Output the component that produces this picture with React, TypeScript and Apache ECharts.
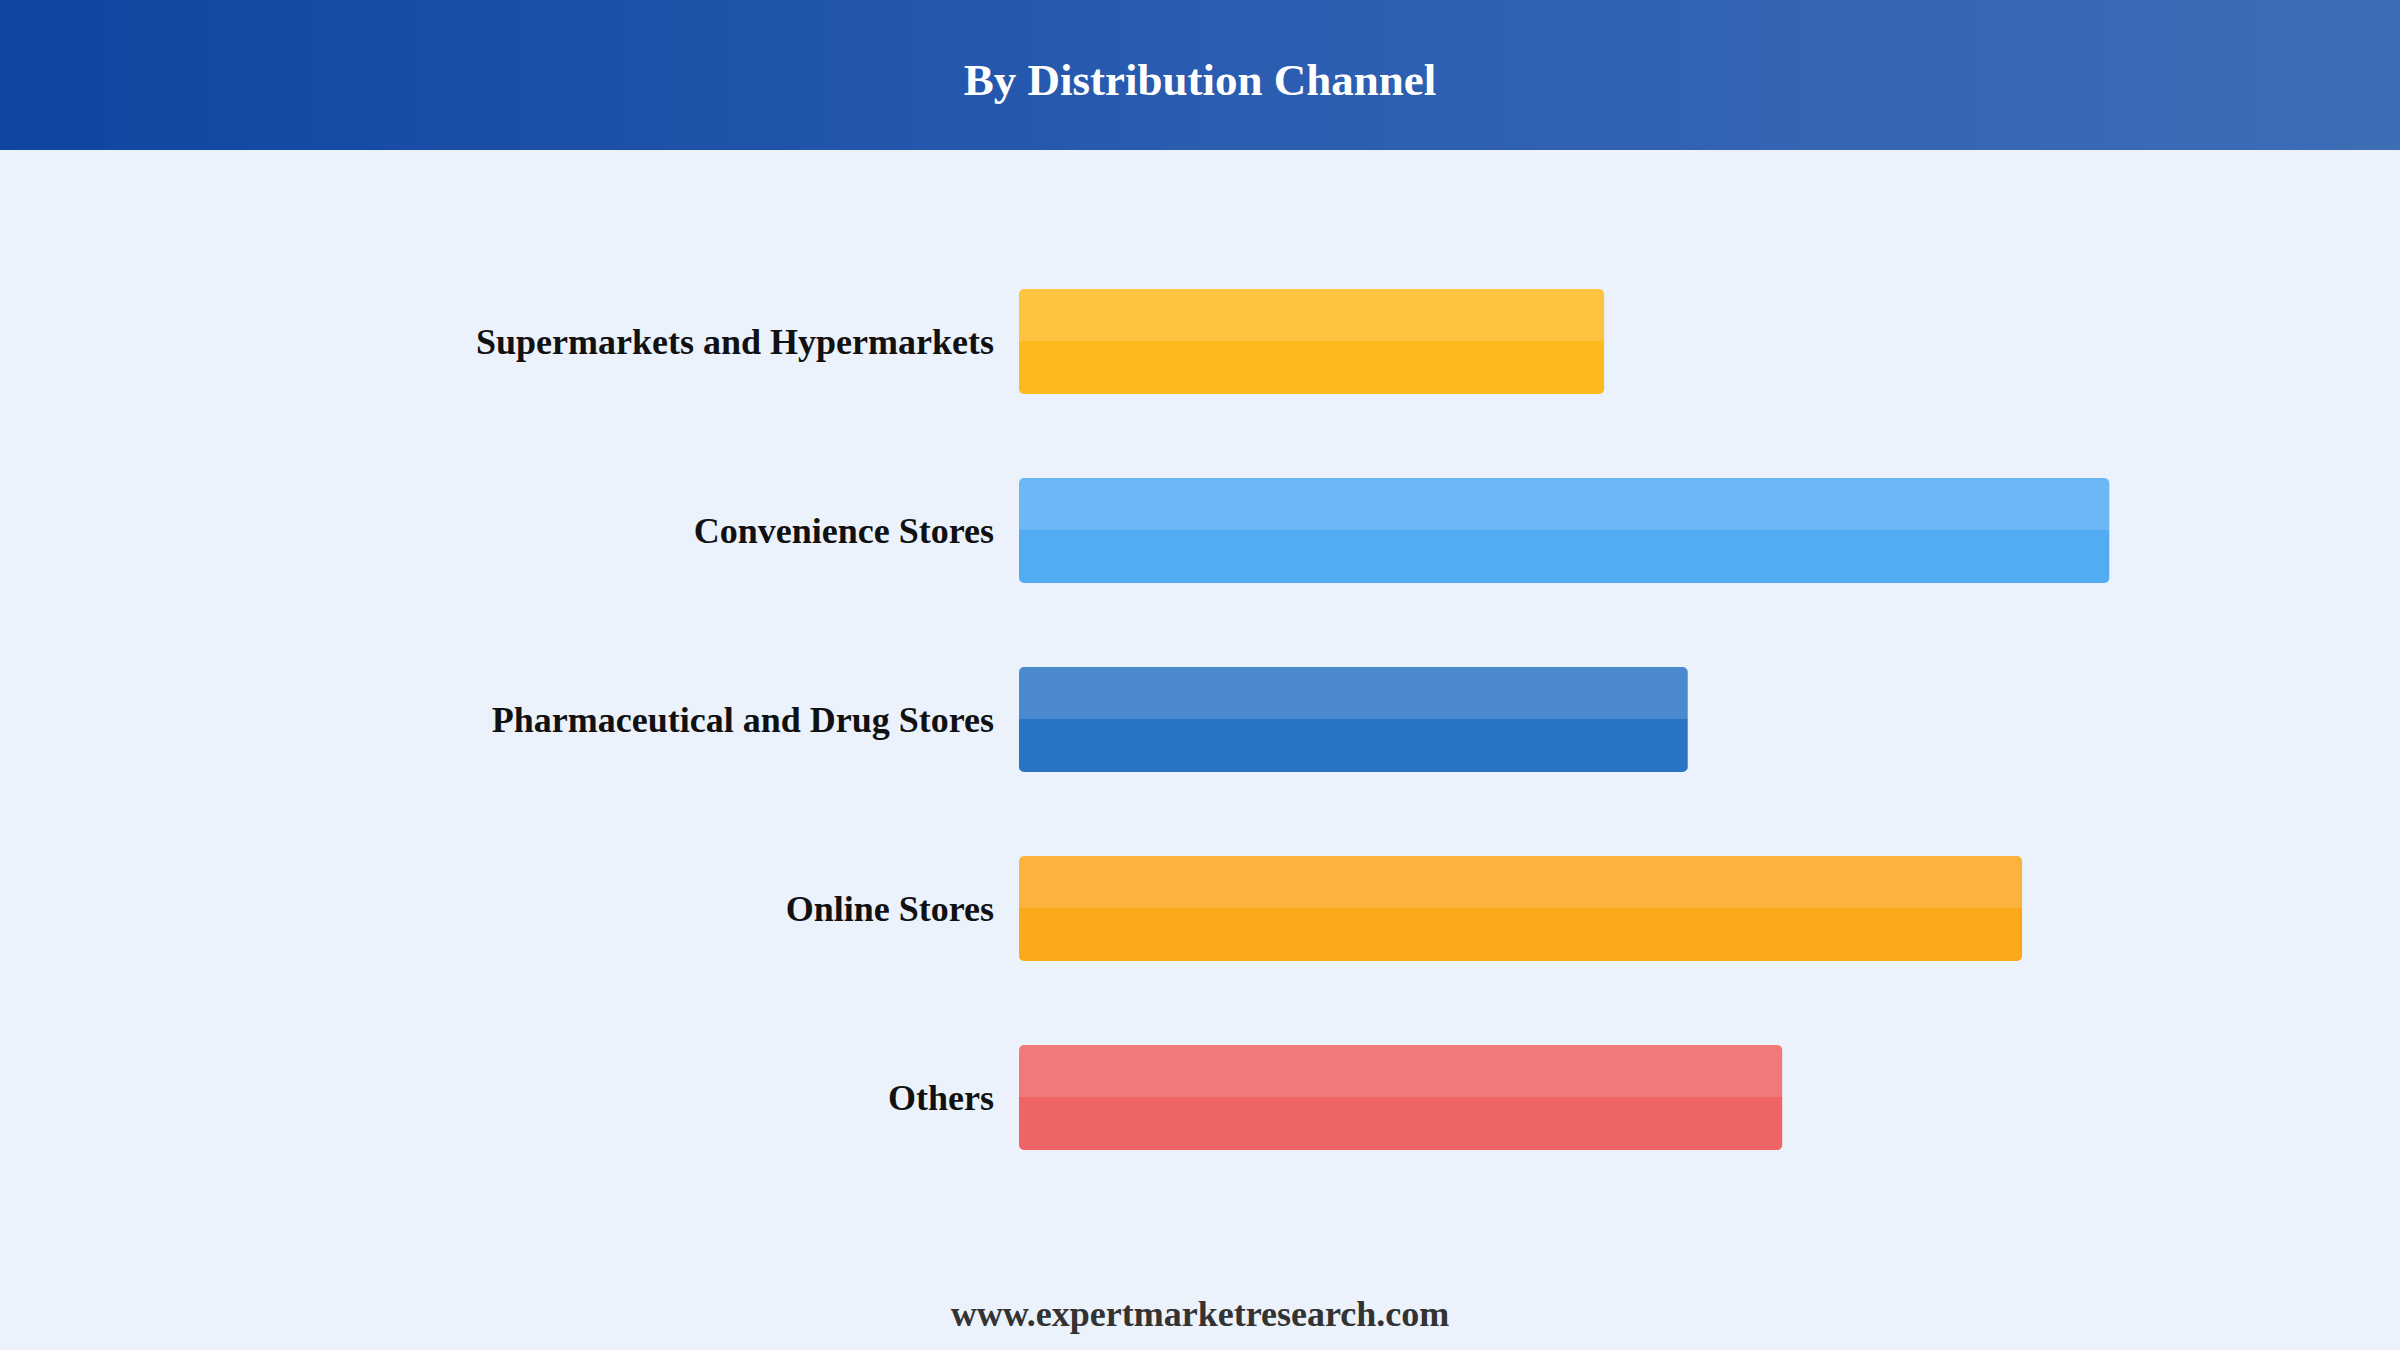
import { useEffect, useRef } from 'react';
import * as echarts from 'echarts';

const categories = [
  'Supermarkets and Hypermarkets',
  'Convenience Stores',
  'Pharmaceutical and Drug Stores',
  'Online Stores',
  'Others',
];
const values = [32.2, 60, 36.8, 55.2, 42];
const topColors = ['#FEC33F', '#6CB7F6', '#4B89CE', '#FBB33E', '#F07A7B'];
const baseColors = ['#FEB91D', '#52ACF3', '#2A74C5', '#FBA91A', '#EF6464'];

const titleText = 'By Distribution Channel';
const footerText = 'www.expertmarketresearch.com';

const serif = '"Liberation Serif", "Times New Roman", serif';

const App = () => {
  const containerRef = useRef<HTMLDivElement>(null);

  useEffect(() => {
    if (!containerRef.current) return;
    const chart = echarts.init(containerRef.current, null, { renderer: 'svg' });

    const option: echarts.EChartsOption = {
      animation: false,
      backgroundColor: '#EBF2FC',
      title: {
        text: titleText,
        left: 'center',
        top: 57,
        padding: 0,
        textStyle: { color: '#ffffff', fontSize: 45, fontWeight: 'bold', fontFamily: serif },
      },
      graphic: [
        {
          type: 'rect',
          z: -1,
          shape: { x: 0, y: 0, width: 2400, height: 150 },
          style: {
            fill: new echarts.graphic.LinearGradient(0, 0, 1, 0, [
              { offset: 0, color: '#0D45A0' },
              { offset: 0.5, color: '#2A5CB0' },
              { offset: 1, color: '#3E6DB6' },
            ]),
          },
        },
        {
          type: 'text',
          x: 1200,
          y: 1314,
          style: {
            text: footerText,
            fill: '#333333',
            fontSize: 36,
            fontWeight: 'bold',
            fontFamily: serif,
            textAlign: 'center',
            textVerticalAlign: 'middle',
          },
        },
      ],
      grid: { left: 1019, top: 247, width: 1272, height: 945, containLabel: false },
      xAxis: {
        type: 'value',
        min: 0,
        max: 70,
        show: false,
        splitLine: { show: false },
      },
      yAxis: {
        type: 'category',
        data: categories,
        inverse: true,
        axisLine: { show: false },
        axisTick: { show: false },
        axisLabel: {
          margin: 25,
          color: '#111111',
          fontSize: 36,
          fontWeight: 'bold',
          fontFamily: serif,
        },
      },
      series: [
        {
          type: 'bar',
          barWidth: 105,
          data: values.map((v, i) => ({
            value: v,
            itemStyle: {
              borderRadius: 5,
              color: new echarts.graphic.LinearGradient(0, 0, 0, 1, [
                { offset: 0, color: topColors[i] },
                { offset: 0.5, color: topColors[i] },
                { offset: 0.5, color: baseColors[i] },
                { offset: 1, color: baseColors[i] },
              ]),
            },
          })),
        },
      ],
    };

    chart.setOption(option);
    return () => chart.dispose();
  }, []);

  return (
    <div
      ref={containerRef}
      style={{ position: 'fixed', left: 0, top: 0, width: 2400, height: 1350 }}
    />
  );
};

export default App;
